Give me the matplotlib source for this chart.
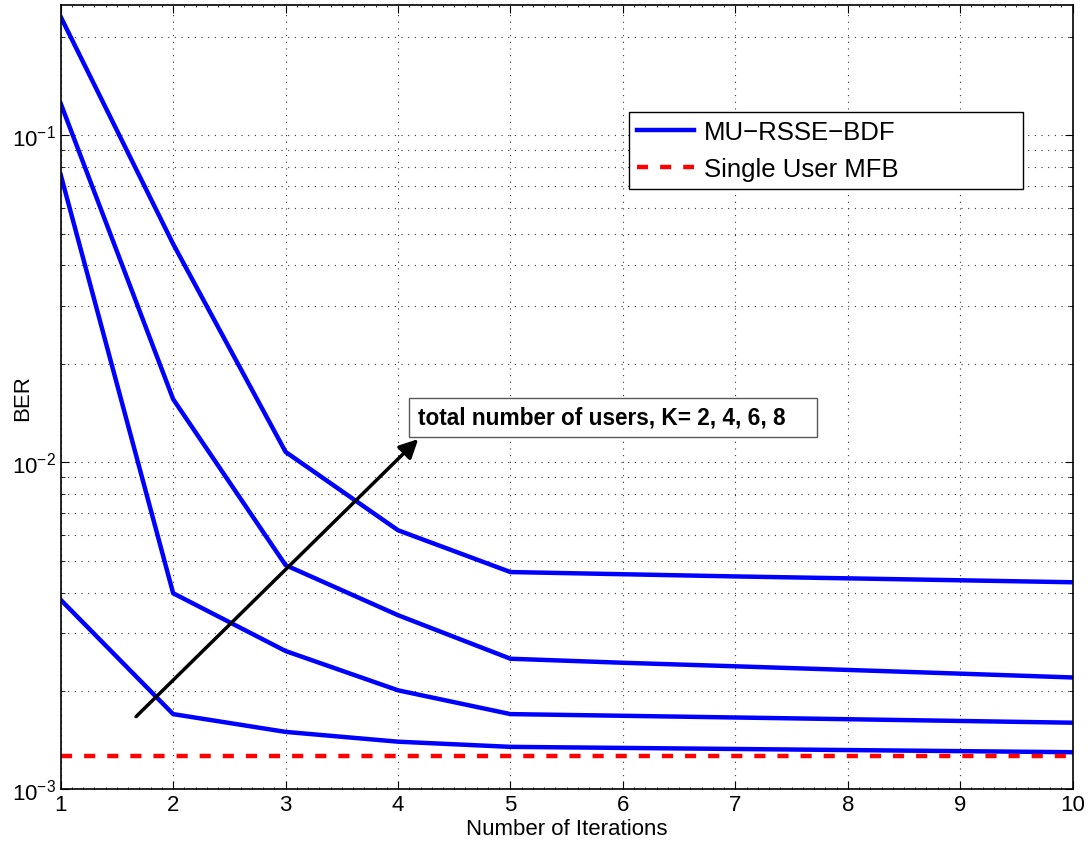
import matplotlib
matplotlib.use("Agg")
import matplotlib.pyplot as plt
from matplotlib.patches import Rectangle
from matplotlib.ticker import MultipleLocator, LogLocator, NullFormatter

plt.rcParams['font.family'] = ['Liberation Sans', 'DejaVu Sans']
plt.rcParams['mathtext.fontset'] = 'custom'
plt.rcParams['mathtext.rm'] = 'Liberation Sans'
plt.rcParams['mathtext.it'] = 'Liberation Sans:italic'
plt.rcParams['mathtext.bf'] = 'Liberation Sans:bold'

# data
iterations = [1, 2, 3, 4, 5, 6, 7, 8, 9, 10]
ber_k2 = [0.0038, 0.0017, 0.0015, 0.0014, 0.00135, 0.00134, 0.00133, 0.00132, 0.00131, 0.0013]
ber_k4 = [0.0757, 0.00398, 0.00265, 0.00201, 0.0017, 0.00168, 0.00166, 0.00164, 0.00162, 0.0016]
ber_k6 = [0.125, 0.0156, 0.00485, 0.00341, 0.00251, 0.00244, 0.00238, 0.00232, 0.00226, 0.0022]
ber_k8 = [0.23, 0.0465, 0.01076, 0.0062, 0.00462, 0.00455, 0.00448, 0.00442, 0.00436, 0.0043]
ber_mfb = [0.00127] * len(iterations)

fig = plt.figure(figsize=(10.88, 8.45), dpi=100)
ax = fig.add_axes([0.0558, 0.0645, 0.9301, 0.9284])

curves = [ber_k2, ber_k4, ber_k6, ber_k8]
for i, c in enumerate(curves):
    ax.plot(iterations, c, color='#0000ff', linewidth=3.2,
            label='MU\u2212RSSE\u2212BDF' if i == 0 else None)
ax.plot(iterations, ber_mfb, color='#ff0000', linewidth=3.2, dashes=(2.5, 2.7),
        label='Single User MFB')

ax.set_yscale('log')
ax.set_xlim(1, 10)
ax.set_ylim(1e-3, 0.25)
ax.xaxis.set_major_locator(MultipleLocator(1))
ax.xaxis.set_minor_locator(MultipleLocator(0.1))
ax.yaxis.set_major_locator(LogLocator(base=10))
ax.yaxis.set_minor_locator(LogLocator(base=10, subs=range(2, 10)))
ax.yaxis.set_minor_formatter(NullFormatter())

ax.grid(True, which='major', axis='x', linestyle=(0, (1, 5)), color='0.2', linewidth=0.8)
ax.grid(True, which='both', axis='y', linestyle=(0, (1, 5)), color='0.2', linewidth=0.8)

ax.tick_params(which='both', direction='in', top=True, right=True, labelsize=16)
ax.tick_params(which='major', length=6, width=0.8)
ax.tick_params(which='minor', length=3, width=0.6)
ax.tick_params(axis='x', which='minor', length=1.5)
for s in ax.spines.values():
    s.set_linewidth(1.2)

ax.set_xlabel('Number of Iterations', fontsize=16, labelpad=2)
ax.set_ylabel('BER', fontsize=16)
ax.yaxis.label.set_va('center')
ax.yaxis.set_label_coords(-0.038, 0.5)

leg = ax.legend(loc='upper left', bbox_to_anchor=(0.5616, 0.7667, 0.3893, 0.0969),
                mode='expand', borderaxespad=0,
                fontsize=18.5, fancybox=False, framealpha=1, edgecolor='black',
                handlelength=2.2, handletextpad=0.4, labelspacing=0.49,
                borderpad=0.32)
leg.get_frame().set_linewidth(1.0)

# annotation arrow and label box
ax.annotate('', xy=(4.18, 0.01178), xytext=(1.67, 0.00167),
            arrowprops=dict(arrowstyle='-|>', color='black', lw=2.5,
                            mutation_scale=28, shrinkA=0, shrinkB=0))
ax.add_patch(Rectangle((0.3442, 0.4493), 0.4031, 0.0497, transform=ax.transAxes,
                       facecolor='white', edgecolor='0.35', linewidth=1.0, zorder=4))
ax.text(0.3531, 0.4742, 'total number of users, K= 2, 4, 6, 8', transform=ax.transAxes,
        fontsize=16.3, fontweight='bold', va='center', ha='left', zorder=5)

fig.savefig('out.png', dpi=100)
